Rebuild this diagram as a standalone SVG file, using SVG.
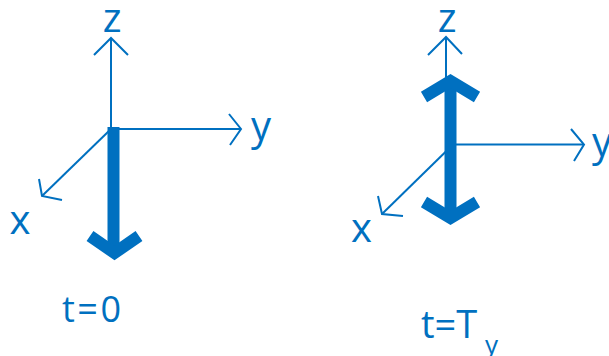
<svg xmlns="http://www.w3.org/2000/svg" width="609" height="356" viewBox="0 0 609 356">
  <style>
    .axis { stroke: #0070C0; stroke-width: 2; fill: none; }
    .head { stroke: #0070C0; stroke-width: 2; fill: none; stroke-linejoin: miter; }
    .thick { stroke: #0070C0; stroke-width: 12; fill: none; stroke-linejoin: miter; stroke-miterlimit: 10; stroke-linecap: butt; }
    .lbl { fill: #0070C0; font-family: "Open Sans", "Noto Sans", "Liberation Sans", sans-serif; font-weight: 500; }
  </style>
  <rect width="609" height="356" fill="#ffffff"/>
  <g id="frame-t0">
    <g id="axes-t0">
      <line class="axis" x1="111" y1="129" x2="111" y2="38"/>
      <polyline class="head" points="94,55 111,38 128,55"/>
      <line class="axis" x1="111" y1="129" x2="241" y2="129"/>
      <polyline class="head" points="229,114 241,129 230,145"/>
      <line class="axis" x1="111" y1="129" x2="42" y2="196"/>
      <polyline class="head" points="39,179 42,196 62,200"/>
    </g>
    <g id="labels-t0">
      <text class="lbl" x="112" y="32" font-size="40" text-anchor="middle">z</text>
      <text class="lbl" x="251" y="140" font-size="40">y</text>
      <text class="lbl" x="9.5" y="233.5" font-size="40">x</text>
      <text class="lbl" x="62" y="322" font-size="36" textLength="59" lengthAdjust="spacing">t=0</text>
    </g>
    <g id="arrow-t0">
      <line class="thick" x1="113.5" y1="127" x2="113.5" y2="250"/>
      <polyline class="thick" points="90,236 114.5,253 139,236"/>
    </g>
  </g>
  <g id="frame-ty">
    <g id="axes-ty">
      <line class="axis" x1="446" y1="146" x2="446" y2="37"/>
      <polyline class="head" points="428,55 446,37 462,54"/>
      <line class="axis" x1="446" y1="144.5" x2="584" y2="144.5"/>
      <polyline class="head" points="571,129 584,144.5 574,161"/>
      <line class="axis" x1="450" y1="147.5" x2="382" y2="214"/>
      <polyline class="head" points="378,196 382,214 403,216"/>
    </g>
    <g id="labels-ty">
      <text class="lbl" x="447" y="32" font-size="40" text-anchor="middle">z</text>
      <text class="lbl" x="592" y="155.5" font-size="40">y</text>
      <text class="lbl" x="351" y="242" font-size="40">x</text>
      <text class="lbl" x="421" y="338" font-size="38">t=T</text>
      <text class="lbl" x="485" y="354" font-size="26">y</text>
    </g>
    <g id="arrow-ty">
      <line class="thick" x1="450.5" y1="82" x2="450.5" y2="217"/>
      <polyline class="thick" points="424,97 450.5,81 477,97"/>
      <polyline class="thick" points="424,202 450.5,218 477,202"/>
    </g>
  </g>
</svg>
